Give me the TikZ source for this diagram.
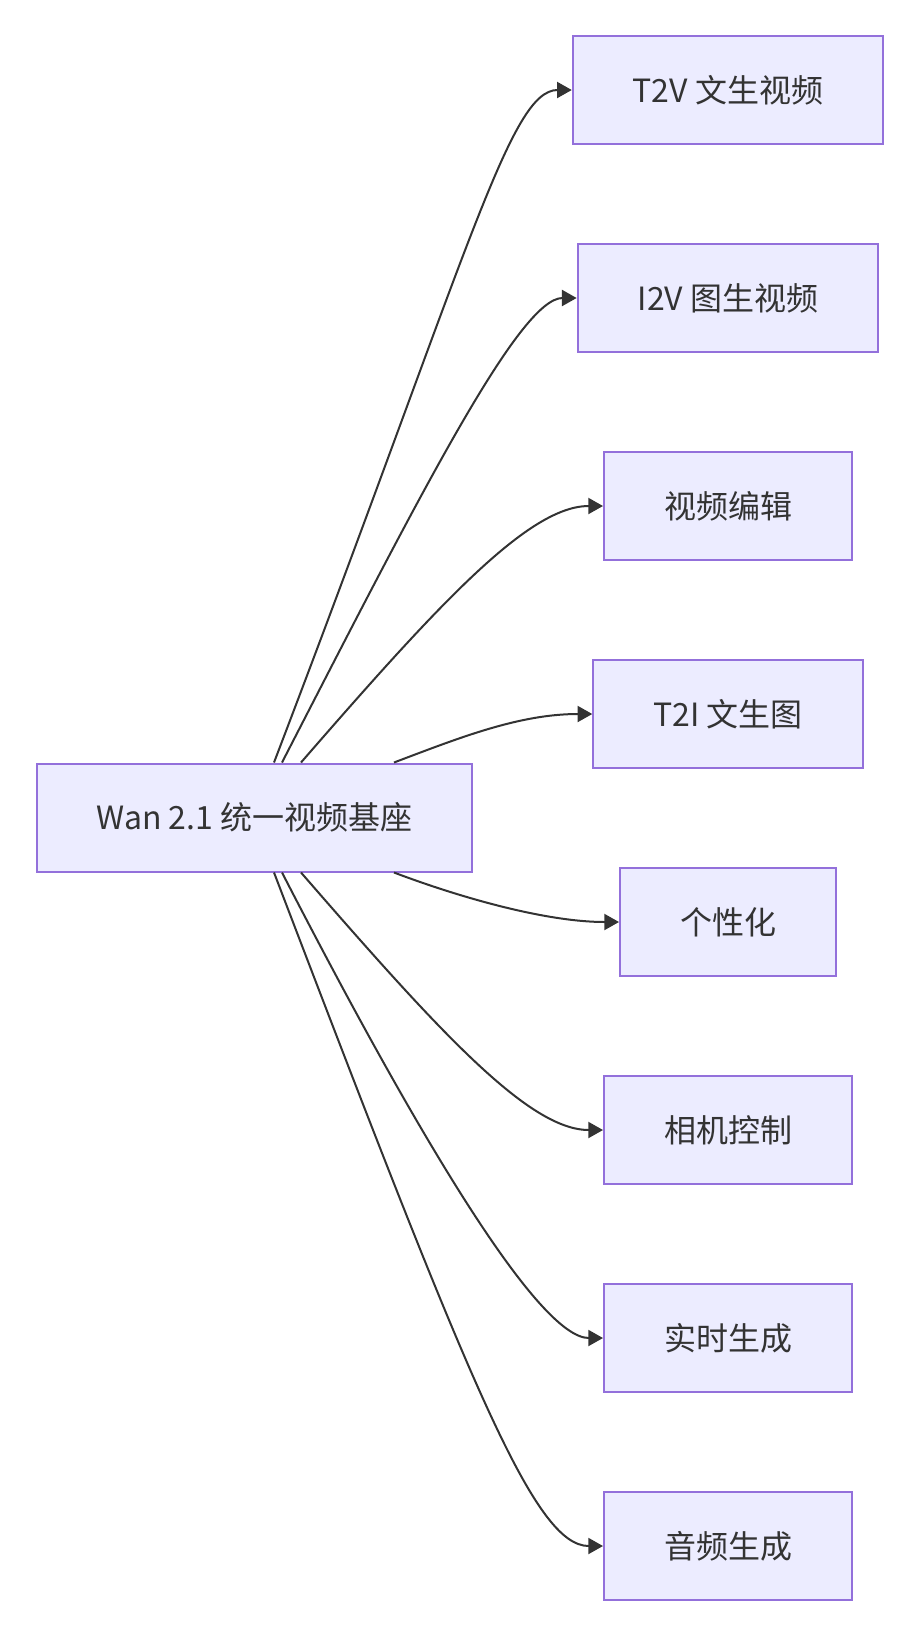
\documentclass[tikz,border=0pt]{standalone}
\usepackage{fontspec}
\setmainfont{Noto Sans CJK SC}
\usepackage{tikz}
\usetikzlibrary{arrows.meta}

\definecolor{boxfill}{HTML}{ECECFF}
\definecolor{boxline}{HTML}{9370DB}
\definecolor{ink}{HTML}{333333}

\tikzset{
	box/.style={shape=rectangle, draw=boxline, fill=boxfill, line width=1.5pt,
		text=ink, inner xsep=45pt, inner ysep=0pt, minimum height=81pt,
		font=\fontsize{24pt}{28pt}\selectfont},
	link/.style={draw=ink, line width=1.5pt, -{Triangle[length=11pt,width=12pt]}}
}

\begin{document}
\begin{tikzpicture}[x=0.75pt, y=-0.75pt]
	
	\useasboundingbox (0,0) rectangle (922,1636);
	
	\node[box] (base) at (254.5, 817.5) {Wan 2.1 统一视频基座};
	
	\node[box] (t2v)  at (728, 90)   {T2V 文生视频};
	\node[box] (i2v)  at (728, 298)  {I2V 图生视频};
	\node[box] (edit) at (728, 506)  {视频编辑};
	\node[box] (t2i)  at (728, 714)  {T2I 文生图};
	\node[box] (pers) at (728, 922)  {个性化};
	\node[box] (cam)  at (728, 1130) {相机控制};
	\node[box] (live) at (728, 1338) {实时生成};
	\node[box] (audio) at (728, 1546) {音频生成};
	
	\path[link] (base.north) ++(19.5,0) .. controls +(196,-513) and +(-62,0) .. (t2v.west);
	\path[link] (base.north) ++(27.5,0) .. controls +(138,-268) and +(-57,0) .. (i2v.west);
	\path[link] (base.north) ++(46.5,0) .. controls +(139,-160) and +(-74,0) .. (edit.west);
	\path[link] (base.north) ++(139.5,0) .. controls +(66,-25) and +(-73,0) .. (t2i.west);
	\path[link] (base.south) ++(139.5,0) .. controls +(66,25) and +(-73,0) .. (pers.west);
	\path[link] (base.south) ++(46.5,0) .. controls +(139,160) and +(-74,0) .. (cam.west);
	\path[link] (base.south) ++(27.5,0) .. controls +(138,268) and +(-64,0) .. (live.west);
	\path[link] (base.south) ++(19.5,0) .. controls +(196,513) and +(-69,0) .. (audio.west);
	
\end{tikzpicture}
\end{document}
